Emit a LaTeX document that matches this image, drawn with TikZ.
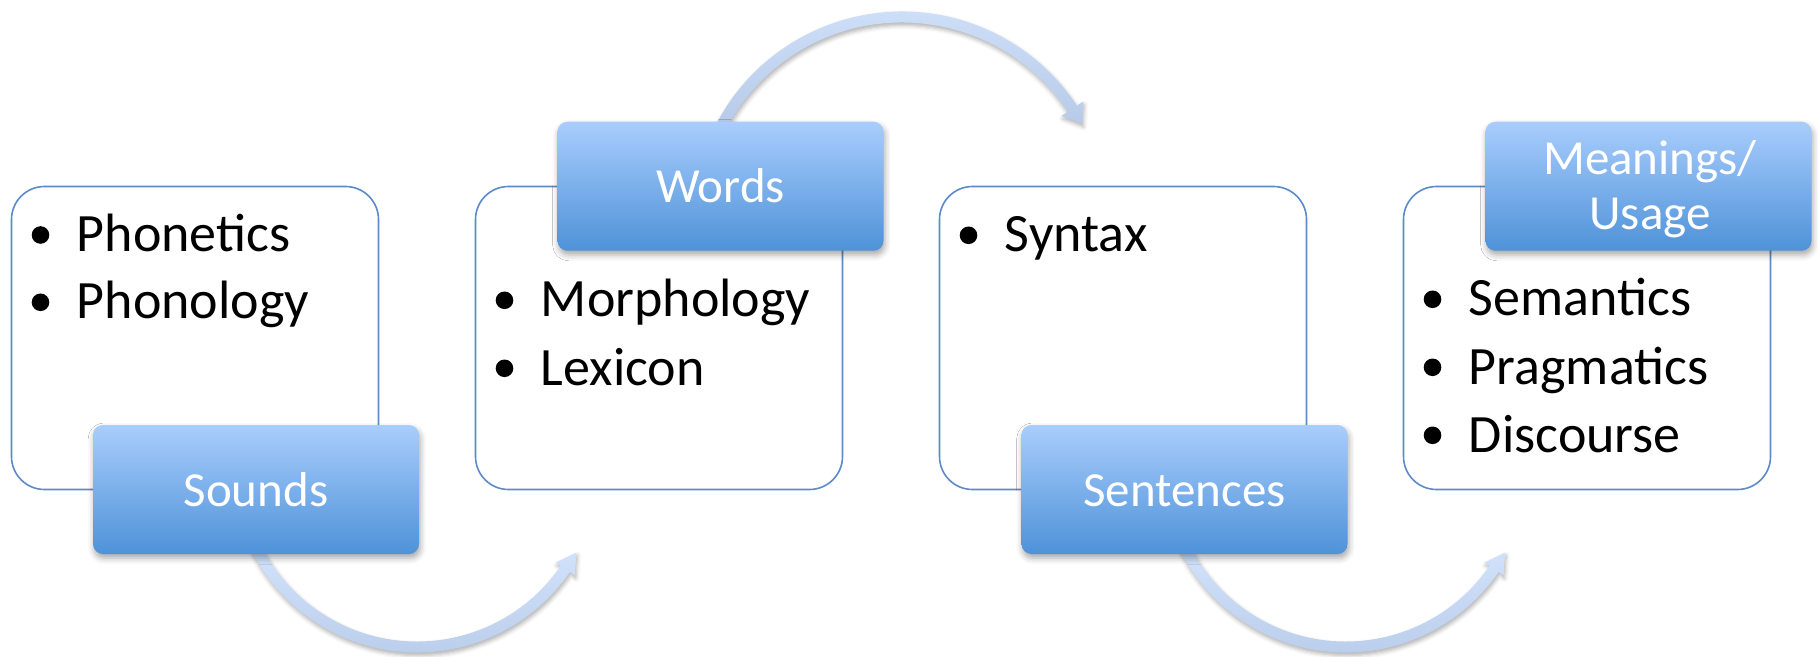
\documentclass[tikz,border=0pt]{standalone}
\usepackage{fontspec}
\setmainfont{Carlito}
\usetikzlibrary{shadows.blur}

\definecolor{frameblue}{HTML}{5B8BC9}
\definecolor{labeltop}{HTML}{A9CDFD}
\definecolor{labelbot}{HTML}{4E92D8}
\definecolor{arrowtop}{HTML}{D3E3FC}
\definecolor{arrowbot}{HTML}{B5C9E7}

% bullet dot followed by one list entry: name, bullet x, baseline y, text
\newcommand\listentry[4]{%
  \fill (#2,#3-16.7) circle[radius=8.8];
  \node[itemtext] (#1) at (#2+36,#3) {#4};}

\begin{document}
\begin{tikzpicture}[x=0.5pt,y=-0.5pt,
  topicbox/.style={rectangle, draw=frameblue, line width=0.8pt, fill=white,
    rounded corners=16.5pt, minimum width=183.5pt, minimum height=151.5pt,
    inner sep=0pt, outer sep=0pt},
  headbox/.style={rectangle, rounded corners=5pt, top color=labeltop,
    bottom color=labelbot, minimum width=163pt, minimum height=64.5pt,
    inner sep=0pt, outer sep=0pt,
    blur shadow={shadow xshift=0.6pt, shadow yshift=-2pt,
      shadow blur radius=3pt, shadow opacity=35}},
  headtext/.style={text=white, font=\fontsize{24.5}{27.5}\selectfont,
    anchor=base, inner sep=0pt},
  itemtext/.style={text=black, font=\fontsize{27}{34}\selectfont,
    anchor=base west, inner sep=0pt},
  bendarrow/.style={top color=arrowtop, bottom color=arrowbot,
    blur shadow={shadow xshift=0.5pt, shadow yshift=-1.5pt,
      shadow blur radius=2pt, shadow opacity=30}},
]
\useasboundingbox (0,0) rectangle (1818,657);

% content boxes
\node[topicbox] (box1) at (195,338) {};
\node[topicbox] (box2) at (659,338) {};
\node[topicbox] (box3) at (1123,338) {};
\node[topicbox] (box4) at (1587,338) {};

% curved arrows between the stages
\coordinate (c1) at (417,467);
\coordinate (c2) at (902,221);
\coordinate (c3) at (1345.7,467);

\path[bendarrow] ([shift={(154:185.5)}]c1)
  arc[start angle=154, end angle=34.5, radius=185.5]
  -- ([shift={(34.5:191.5)}]c1) -- ([shift={(28.2:181)}]c1)
  -- ([shift={(34.5:168.5)}]c1) -- ([shift={(34.5:174.5)}]c1)
  arc[start angle=34.5, end angle=154, radius=174.5] -- cycle;

\path[bendarrow] ([shift={(206:209.5)}]c2)
  arc[start angle=206, end angle=326.6, radius=209.5]
  -- ([shift={(326.6:217)}]c2) -- ([shift={(331.7:205)}]c2)
  -- ([shift={(326.6:191)}]c2) -- ([shift={(326.6:198.5)}]c2)
  arc[start angle=326.6, end angle=206, radius=198.5] -- cycle;

\path[bendarrow] ([shift={(154:185.5)}]c3)
  arc[start angle=154, end angle=34.5, radius=185.5]
  -- ([shift={(34.5:191.5)}]c3) -- ([shift={(28.2:181)}]c3)
  -- ([shift={(34.5:168.5)}]c3) -- ([shift={(34.5:174.5)}]c3)
  arc[start angle=34.5, end angle=154, radius=174.5] -- cycle;

% stage headings
\node[headbox] (sounds) at (256,489.5) {};
\node[headbox] (words) at (720.5,186.25) {};
\node[headbox] (sentences) at (1184.5,489.5) {};
\node[headbox] (meanings) at (1648.5,186.25) {};

\node[headtext] (soundsT) at (256,506) {Sounds};
\node[headtext] (wordsT) at (720.5,202.5) {Words};
\node[headtext] (sentencesT) at (1184.5,506) {Sentences};
\node[headtext] (meaningsT) at (1650,175) {Meanings/};
\node[headtext] (usageT) at (1650,230) {Usage};

% list entries
\listentry{phonetics}{40.5}{251.7}{Phonetics}
\listentry{phonology}{40.5}{319}{Phonology}
\listentry{morphology}{504.5}{317}{Morphology}
\listentry{lexicon}{504.5}{385}{Lexicon}
\listentry{syntax}{968.5}{252}{Syntax}
\listentry{semantics}{1432.5}{316}{Semantics}
\listentry{pragmatics}{1432.5}{384}{Pragmatics}
\listentry{discourse}{1432.5}{452}{Discourse}
\end{tikzpicture}
\end{document}
